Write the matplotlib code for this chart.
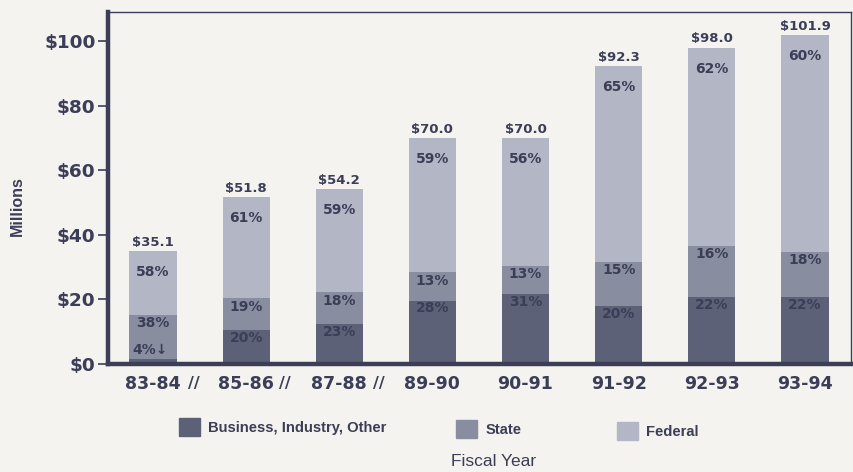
import matplotlib
matplotlib.use('Agg')
from matplotlib import pyplot as plt
from matplotlib.patches import Patch
import numpy as np

years = ['83-84', '85-86', '87-88', '89-90', '90-91', '91-92', '92-93', '93-94']
totals = [35.1, 51.8, 54.2, 70.0, 70.0, 92.3, 98.0, 101.9]
# segment heights as drawn ($ millions)
business = [1.6, 10.5, 12.4, 19.6, 21.6, 18.0, 20.7, 20.7]
state = [13.6, 9.8, 9.8, 8.8, 8.7, 13.6, 15.8, 14.0]
federal = [19.9, 31.5, 32.0, 41.6, 39.7, 60.7, 61.5, 67.2]
# printed shares
pct_business = [4, 20, 23, 28, 31, 20, 22, 22]
pct_state = [38, 19, 18, 13, 13, 15, 16, 18]
pct_federal = [58, 61, 59, 59, 56, 65, 62, 60]
series_names = ['Business, Industry, Other', 'State', 'Federal']
yticks = [0, 20, 40, 60, 80, 100]
ytick_labels = ['$0', '$20', '$40', '$60', '$80', '$100']
breaks = [0.44, 1.42, 2.42]   # "//" marks between non-consecutive years

BG = '#f4f3f0'
INK = '#3b3e56'
C_BUS = '#5c6177'
C_STATE = '#898da0'
C_FED = '#b3b6c5'
WIDE = ['DejaVu Sans']
NARROW = ['Liberation Sans', 'DejaVu Sans']

plt.rcParams['font.family'] = WIDE

fig = plt.figure(figsize=(8.54, 4.72), dpi=100, facecolor=BG)
ax = fig.add_axes([108/854, 1 - 364/472, 743/854, 352/472], facecolor=BG)

x = np.arange(len(years))
bus = np.array(business)
st = np.array(state)
fed = np.array(federal)
w = 0.505

ax.bar(x, bus, w, color=C_BUS, label=series_names[0], zorder=2)
ax.bar(x, st, w, bottom=bus, color=C_STATE, label=series_names[1], zorder=2)
ax.bar(x, fed, w, bottom=bus + st, color=C_FED, label=series_names[2], zorder=2)
top = bus + st + fed

lbl = dict(ha='center', va='center', fontsize=10, fontweight='bold', color=INK,
           textcoords='offset points', zorder=3)
for i in range(len(years)):
    ax.annotate('$%.1f' % totals[i], (x[i], top[i]), xytext=(0, 6.2),
                ha='center', va='center', fontsize=9.5, fontweight='bold', color=INK,
                textcoords='offset points')
    ax.annotate('%d%%' % pct_federal[i], (x[i], top[i]), xytext=(0, -15.5), **lbl)
    ax.annotate('%d%%' % pct_state[i], (x[i], bus[i] + st[i]), xytext=(0, -6), **lbl)
    if bus[i] < 5:
        ax.annotate('%d%%\u2193' % pct_business[i], (x[i], bus[i]), xytext=(-2, 6.5), **lbl)
    else:
        ax.annotate('%d%%' % pct_business[i], (x[i], bus[i]), xytext=(0, -5.5), **lbl)

ax.set_xlim(-0.483, 7.494)
ax.set_ylim(0, 109.0)
ax.set_yticks(yticks)
ax.set_yticklabels(ytick_labels, fontsize=13.3, fontweight='bold', color=INK)
ax.set_xticks(x)
ax.set_xticklabels(years, fontsize=12.5, fontweight='bold', color=INK)
ax.tick_params(axis='x', length=0, pad=8)
ax.tick_params(axis='y', length=7, width=1.2, color=INK, pad=2)
for b in breaks:
    ax.text(b, -0.055, '//', transform=ax.get_xaxis_transform(), ha='center', va='center',
            fontsize=11.5, fontweight='bold', color=INK)

for side in ['left', 'bottom']:
    ax.spines[side].set_linewidth(3.2)
    ax.spines[side].set_color(INK)
for side in ['top', 'right']:
    ax.spines[side].set_linewidth(1.0)
    ax.spines[side].set_color(INK)

ax.set_ylabel('Millions', fontsize=11.5, fontweight='bold', color=INK, family=NARROW)
ax.yaxis.set_label_coords(-0.112, 0.45)
fig.text(494/854, 1 - 461/472, 'Fiscal Year', ha='center', va='center', fontsize=12.5,
         color=INK, family=NARROW)

# legend: three separate entries, spaced like the original
leg_pos = [(179/854, 1 - 427/472), (456/854, 1 - 429/472), (617/854, 1 - 431/472)]
colors = [C_BUS, C_STATE, C_FED]
for name, col, pos in zip(series_names, colors, leg_pos):
    leg = fig.legend(handles=[Patch(color=col, label=name)], loc='center left',
                     bbox_to_anchor=pos, frameon=False, borderpad=0, borderaxespad=0,
                     handlelength=1.45, handleheight=1.45, handletextpad=0.55,
                     prop={'size': 10.6, 'weight': 'bold', 'family': NARROW})
    for t in leg.get_texts():
        t.set_color(INK)

fig.savefig('out.png', dpi=100, facecolor=BG)
